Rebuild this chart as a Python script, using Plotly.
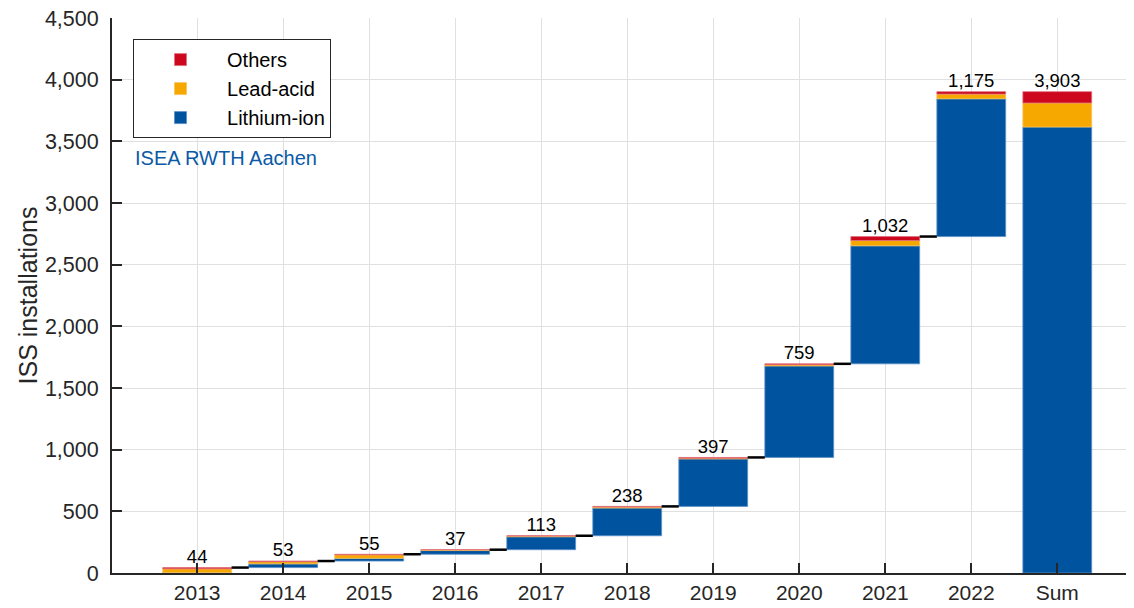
import plotly.graph_objects as go

years = ["2013", "2014", "2015", "2016", "2017", "2018", "2019", "2020", "2021", "2022"]
sum_label = "Sum"
lithium = [3, 30, 22, 30, 105, 225, 385, 742, 957, 1117]
lead_acid = [31, 18, 28, 7, 6, 8, 6, 10, 43, 38]
others = [10, 5, 5, 0, 2, 5, 6, 7, 32, 20]

C_LI = "#00549F"
C_PB = "#F6A800"
C_OT = "#CC071E"
E_LI = "#5A8FC8"
E_PB = "#F9C45A"
E_OT = "#E0707C"

totals = [a + b + c for a, b, c in zip(lithium, lead_acid, others)]
bases = []
cum = 0
for t in totals:
    bases.append(cum)
    cum += t
grand = cum
li_sum, pb_sum, ot_sum = sum(lithium), sum(lead_acid), sum(others)

xs = list(range(len(years) + 1))
labels = years + [sum_label]

li_y = lithium + [li_sum]
li_b = bases + [0]
pb_y = lead_acid + [pb_sum]
pb_b = [b + l for b, l in zip(li_b, li_y)]
ot_y = others + [ot_sum]
ot_b = [b + p for b, p in zip(pb_b, pb_y)]

FONT = "Liberation Sans, Arial, sans-serif"
fig = go.Figure()
bw = 0.8
fig.add_trace(go.Bar(x=xs, y=li_y, base=li_b, width=bw, name="Lithium-ion",
                     marker=dict(color=C_LI, line=dict(color=E_LI, width=0.8))))
fig.add_trace(go.Bar(x=xs, y=pb_y, base=pb_b, width=bw, name="Lead-acid",
                     marker=dict(color=C_PB, line=dict(color=E_PB, width=0.8))))
fig.add_trace(go.Bar(x=xs, y=ot_y, base=ot_b, width=bw, name="Others",
                     marker=dict(color=C_OT, line=dict(color=E_OT, width=0.8))))

# connectors
cx, cy = [], []
for i in range(len(years) - 1):
    level = bases[i] + totals[i]
    cx += [i + bw / 2, i + 1 - bw / 2, None]
    cy += [level, level, None]
fig.add_trace(go.Scatter(x=cx, y=cy, mode="lines", line=dict(color="black", width=2.5),
                         showlegend=False, hoverinfo="skip"))

# value labels
tops = [b + t for b, t in zip(bases, totals)] + [grand]
vals = totals + [grand]
fig.add_trace(go.Scatter(x=xs, y=tops, mode="text", text=[f"{v:,}" for v in vals],
                         textposition="top center",
                         textfont=dict(family=FONT, size=18.5, color="black"),
                         showlegend=False, hoverinfo="skip"))

fig.add_annotation(x=0.0204, y=0.748, xref="paper", yref="paper", xanchor="left",
                   yanchor="middle", text="ISEA RWTH Aachen", showarrow=False,
                   font=dict(family=FONT, size=20, color="#0A5AA8"))

fig.update_layout(
    width=1134, height=608,
    margin=dict(l=104, r=0, t=10, b=43),
    barmode="overlay",
    plot_bgcolor="white", paper_bgcolor="white",
    font=dict(family=FONT, color="#262626"),
    legend=dict(x=0.0204, y=0.962, xanchor="left", yanchor="top",
                traceorder="reversed", bordercolor="#262626", borderwidth=1,
                bgcolor="white", font=dict(family=FONT, size=20, color="black"),
                itemwidth=83, tracegroupgap=0),
    xaxis=dict(range=[-0.99, 10.985], tickmode="array", tickvals=xs, ticktext=labels,
               showgrid=True, gridcolor="#E0E0E0", gridwidth=1,
               ticks="inside", ticklen=10, tickwidth=2, tickcolor="#262626",
               showline=True, linecolor="#262626", linewidth=2, ticklabelstandoff=0,
               tickfont=dict(family=FONT, size=21, color="#262626"), zeroline=False),
    yaxis=dict(range=[0, 4500], dtick=500, tickformat=",d", ticklabeloverflow="allow",
               showgrid=True, gridcolor="#E0E0E0", gridwidth=1,
               ticks="inside", ticklen=10, tickwidth=2, tickcolor="#262626",
               showline=True, linecolor="#262626", linewidth=2, ticklabelstandoff=7,
               tickfont=dict(family=FONT, size=21.5, color="#262626"), zeroline=False,
               title=dict(text="ISS installations", standoff=0,
                          font=dict(family=FONT, size=25, color="#262626"))),
)

fig.write_html("out.html")
